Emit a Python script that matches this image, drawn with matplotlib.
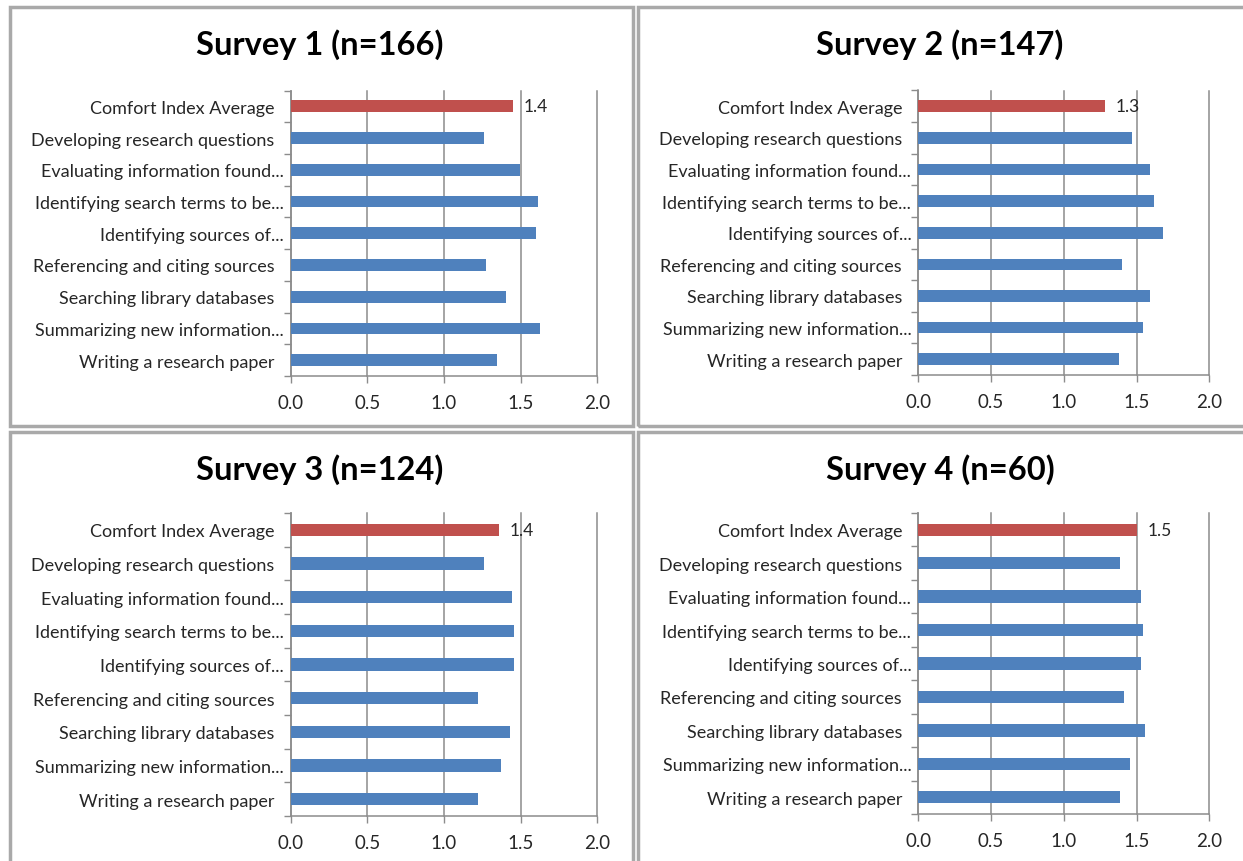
import matplotlib
matplotlib.use("Agg")
import matplotlib.pyplot as plt
from matplotlib.patches import Rectangle

plt.rcParams["font.family"] = ["Lato", "DejaVu Sans"]

BLUE = "#4f81bd"
RED = "#c0504d"
GRID = "#8c8c8c"
FRAME = "#a9a9a9"
TEXT = "#262626"

# Category labels, top to bottom; Excel truncates the long ones
CATEGORIES = [
    "Comfort Index Average  ",
    "Developing research questions  ",
    "Evaluating information found...",
    "Identifying search terms to be...",
    "Identifying sources of...",
    "Referencing and citing sources  ",
    "Searching library databases  ",
    "Summarizing new information...",
    "Writing a research paper  ",
]

TITLES = [
    "Survey 1 (n=166)",
    "Survey 2 (n=147)",
    "Survey 3 (n=124)",
    "Survey 4 (n=60)",
]

# Mean comfort scores, first value is the overall index
SURVEY_1 = [1.447, 1.26, 1.498, 1.611, 1.603, 1.274, 1.406, 1.626, 1.346]
SURVEY_2 = [1.286, 1.466, 1.595, 1.619, 1.684, 1.403, 1.595, 1.545, 1.378]
SURVEY_3 = [1.361, 1.261, 1.446, 1.457, 1.457, 1.224, 1.431, 1.37, 1.224]
SURVEY_4 = [1.504, 1.389, 1.529, 1.545, 1.529, 1.414, 1.556, 1.455, 1.389]

X_TICKS = [0.0, 0.5, 1.0, 1.5, 2.0]

W, H = 1243, 862


def px_rect(x0, y0, x1, y1):
    """Pixel box (top-left origin) -> figure fraction [left, bottom, width, height]."""
    return [x0 / W, 1 - y1 / H, (x1 - x0) / W, (y1 - y0) / H]


# panel frames, axes boxes and title anchors in pixels
FRAMES = [(10, 8, 633, 427), (638, 8, 1252, 427), (10, 433, 633, 872), (638, 433, 1252, 872)]
AXES = [(290.7, 91.5, 597.3, 377), (918.3, 91.5, 1209.3, 376),
        (290.7, 514, 597.3, 817), (918.3, 514, 1209.3, 815)]
TITLE_POS = [(320, 45), (940, 45), (320, 470), (940, 470)]


def draw_panel(fig, values, title, ax_box, title_pos):
    ax = fig.add_axes(px_rect(*ax_box))
    ypos = list(range(len(CATEGORIES)))
    colors = [RED] + [BLUE] * (len(values) - 1)
    ax.barh(ypos, values, height=0.37, color=colors, zorder=3)

    # value label on the index bar
    ax.text(values[0] + 0.07, 0, f"{values[0]:.1f}", va="center", ha="left",
            fontsize=12.5, color=TEXT, zorder=4)

    ax.set_xlim(0, 2.0)
    ax.set_ylim(len(CATEGORIES) - 0.5, -0.5)
    ax.set_xticks(X_TICKS)
    ax.set_xticklabels([f"{t:.1f}" for t in X_TICKS], fontsize=13.5, color=TEXT)
    ax.set_yticks(ypos)
    ax.set_yticklabels(CATEGORIES, fontsize=13, color=TEXT)
    ax.set_yticks([i - 0.5 for i in range(len(CATEGORIES) + 1)], minor=True)
    ax.tick_params(axis="y", which="major", length=0, pad=5)
    ax.tick_params(axis="y", which="minor", length=5, color=GRID, width=1)
    ax.tick_params(axis="x", length=5, color=GRID, width=1, pad=8)

    ax.grid(axis="x", color=GRID, linewidth=1.1, zorder=0)
    for line in ax.get_xgridlines():
        line.set_clip_on(False)
    for side in ("top", "right"):
        ax.spines[side].set_visible(False)
    for side in ("left", "bottom"):
        ax.spines[side].set_color(GRID)
        ax.spines[side].set_linewidth(1.1)

    fig.text(title_pos[0] / W, 1 - title_pos[1] / H, title, ha="center", va="center",
             fontsize=23.5, fontweight="bold", color="black")


fig = plt.figure(figsize=(W / 100, H / 100), dpi=100)

for (x0, y0, x1, y1) in FRAMES:
    fig.add_artist(Rectangle((x0 / W, 1 - y1 / H), (x1 - x0) / W, (y1 - y0) / H,
                             transform=fig.transFigure, fill=False,
                             edgecolor=FRAME, linewidth=2.5))

surveys = [SURVEY_1, SURVEY_2, SURVEY_3, SURVEY_4]
for values, title, box, tpos in zip(surveys, TITLES, AXES, TITLE_POS):
    draw_panel(fig, values, title, box, tpos)

fig.savefig("out.png", dpi=100, facecolor="white")
